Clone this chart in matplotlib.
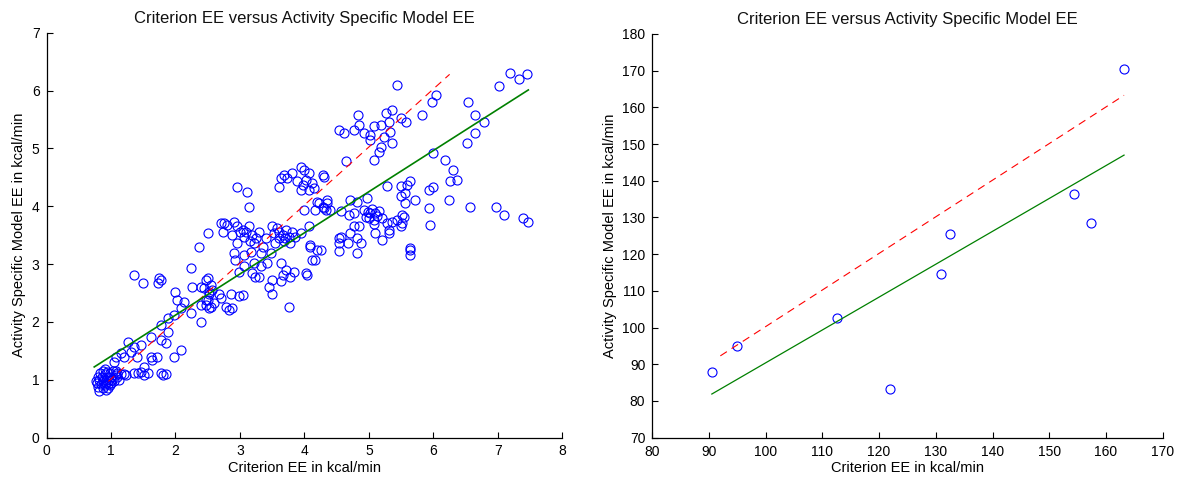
import matplotlib
matplotlib.use("Agg")
import matplotlib.pyplot as plt

plt.rcParams['font.family'] = ['Liberation Sans', 'DejaVu Sans']

TITLE = "Criterion EE versus Activity Specific Model EE"
XLAB = "Criterion EE in kcal/min"
YLAB = "Activity Specific Model EE in kcal/min"

# ── left panel: per-minute EE (criterion vs model) ───────────────────────────
left_pts = [
    # dense low cluster
    (0.78, 0.95), (0.80, 0.88), (0.82, 1.00), (0.85, 0.92), (0.86, 1.05), (0.88, 0.98),
    (0.90, 0.90), (0.90, 1.10), (0.92, 1.00), (0.93, 0.95), (0.95, 1.05), (0.95, 0.85),
    (0.97, 1.00), (0.98, 1.12), (1.00, 0.95), (1.00, 1.05), (1.02, 1.00), (1.03, 1.15),
    (1.05, 0.98), (1.07, 1.08), (0.80, 1.05), (0.83, 1.12), (0.87, 0.85), (0.90, 1.18),
    (0.94, 1.14), (0.98, 0.90), (1.10, 1.05), (1.12, 1.00), (0.76, 0.98), (0.82, 0.80),
    (0.92, 0.82), (1.08, 1.15), (1.15, 1.10), (0.88, 1.15), (0.96, 0.93),
    # row near 1.1
    (1.10, 1.11), (1.23, 1.08), (1.36, 1.11), (1.46, 1.14), (1.51, 1.08), (1.51, 1.22),
    (1.57, 1.11), (1.77, 1.11), (1.80, 1.08), (1.85, 1.10), (1.42, 1.12), (1.20, 1.10),
    # 1 - 2.5
    (2.24, 2.93), (1.36, 2.81), (1.49, 2.67), (1.75, 2.75), (1.73, 2.67), (2.00, 2.52),
    (2.03, 2.38), (2.13, 2.35), (2.08, 2.24), (1.98, 2.12), (1.88, 2.06), (2.24, 2.15),
    (2.39, 2.00), (2.26, 2.61), (2.52, 2.52), (2.52, 2.24), (2.47, 2.38), (2.39, 2.29),
    (1.77, 1.95), (1.88, 1.83), (1.77, 1.69), (1.62, 1.74), (1.85, 1.63), (1.26, 1.66),
    (1.36, 1.57), (1.46, 1.60), (1.31, 1.48), (1.20, 1.40), (1.08, 1.40), (1.15, 1.46),
    (1.05, 1.31), (1.41, 1.40), (1.62, 1.40), (1.72, 1.40), (1.64, 1.34), (1.98, 1.40),
    (2.08, 1.51),
    (2.37, 3.29), (1.77, 2.72), (2.39, 2.61), (2.47, 2.72), (2.57, 2.55), (2.50, 2.38),
    (2.47, 2.29), (2.86, 2.49), (2.83, 2.21), (2.70, 3.71), (2.80, 3.68),
    # 2.5 - 4.5
    (2.96, 4.34), (3.11, 4.25), (3.14, 3.99), (2.50, 3.54), (2.75, 3.71), (2.73, 3.56),
    (2.91, 3.73), (2.96, 3.65), (2.88, 3.50), (3.04, 3.59), (3.06, 3.47), (3.14, 3.65),
    (3.19, 3.50), (3.29, 3.56), (3.22, 3.36), (2.96, 3.36), (2.91, 3.19), (2.93, 3.07),
    (3.06, 3.16), (3.17, 3.21), (3.32, 3.19), (3.48, 3.19), (3.42, 3.01), (3.32, 2.96),
    (3.22, 3.01), (3.29, 2.78), (3.06, 2.96), (2.98, 2.87), (3.50, 3.65), (3.53, 3.53),
    (3.60, 3.56), (3.66, 3.50), (3.71, 3.59), (3.76, 3.47), (3.68, 3.39), (3.55, 3.36),
    (3.78, 3.36), (3.86, 3.47), (3.94, 3.53), (4.07, 3.65), (4.09, 3.33), (4.20, 3.24),
    (4.17, 3.07), (4.22, 4.05), (4.35, 4.05), (4.33, 3.94), (4.17, 3.94), (3.99, 3.94),
    (3.63, 3.01), (3.71, 2.90), (3.84, 2.87), (3.66, 2.81), (3.50, 2.72), (3.45, 2.61),
    (3.50, 2.49), (3.63, 2.70), (4.04, 2.81), (3.76, 2.26), (2.50, 2.75), (2.55, 2.64),
    (2.44, 2.58), (2.52, 2.49), (2.60, 2.32), (2.67, 2.49), (2.70, 2.41), (2.78, 2.26),
    (2.88, 2.24), (2.98, 2.44), (3.04, 2.47), (2.55, 2.26),
    (3.00, 3.55), (3.10, 3.55), (3.25, 3.45), (3.60, 3.45), (3.70, 3.45), (3.80, 3.55),
    (3.58, 3.62), (3.15, 3.40), (3.35, 3.30), (3.40, 3.45),
    (3.63, 4.48), (3.60, 4.34), (3.68, 4.54), (3.73, 4.48), (3.81, 4.57), (3.94, 4.68),
    (3.99, 4.63), (4.07, 4.57), (3.89, 4.43), (3.97, 4.37), (4.02, 4.45), (4.12, 4.40),
    (4.15, 4.31), (4.07, 4.28), (3.94, 4.28), (4.28, 4.54), (4.02, 2.84), (4.12, 3.07),
    (4.09, 3.30), (3.19, 2.84), (3.24, 2.78), (4.20, 4.08), (4.30, 3.97), (3.78, 2.78),
    # 4.5 - 6.5
    (4.83, 5.58), (5.26, 5.62), (5.36, 5.67), (5.49, 5.52), (5.82, 5.58), (5.98, 5.81),
    (5.57, 5.45), (4.53, 5.32), (4.61, 5.26), (4.77, 5.31), (4.84, 5.41), (4.92, 5.26),
    (5.02, 5.23), (5.07, 5.38), (5.18, 5.41), (5.31, 5.46), (5.33, 5.29), (5.02, 5.15),
    (5.23, 5.20), (5.36, 5.09), (5.18, 5.03), (5.15, 4.94), (5.07, 4.80), (4.65, 4.78),
    (4.30, 4.51), (6.18, 4.80), (6.31, 4.63), (6.26, 4.43), (6.36, 4.45), (5.93, 4.28),
    (6.00, 4.33), (5.63, 4.43), (5.49, 4.35), (5.56, 4.22), (5.49, 4.17), (5.72, 4.11),
    (5.28, 4.35), (5.56, 4.05), (6.24, 4.11), (5.93, 3.97), (5.94, 3.68), (4.97, 4.14),
    (4.71, 4.11), (4.82, 4.08), (4.35, 4.11), (4.28, 3.99), (4.40, 3.94), (4.56, 3.91),
    (4.76, 3.88), (4.92, 3.94), (5.02, 3.88), (5.00, 3.79), (5.10, 3.88), (5.07, 3.76),
    (5.20, 3.79), (5.28, 3.71), (5.36, 3.73), (5.51, 3.85), (5.44, 3.76), (5.49, 3.65),
    (5.31, 3.59), (5.10, 3.53), (4.84, 3.65), (4.69, 3.85), (4.56, 3.47), (4.82, 3.45),
    (4.98, 3.90), (5.05, 3.95), (5.12, 3.83), (5.15, 3.92), (4.95, 3.82), (5.08, 3.70),
    (4.53, 3.45), (4.53, 3.36), (4.53, 3.22), (4.67, 3.37), (4.87, 3.37), (4.82, 3.19),
    (4.71, 3.53), (4.76, 3.65), (5.20, 3.42), (5.31, 3.53), (4.25, 3.24), (5.63, 3.24),
    (5.63, 3.16),
    # upper right
    (7.18, 6.31), (7.33, 6.20), (7.45, 6.28), (7.02, 6.07), (6.54, 5.81), (6.65, 5.58),
    (6.79, 5.46), (6.65, 5.27), (6.52, 5.09), (5.99, 4.92), (6.57, 3.99), (6.97, 3.99),
    (7.10, 3.85), (7.38, 3.80), (7.46, 3.72), (5.59, 4.37), (5.54, 3.82), (5.51, 3.71),
    (5.64, 3.27), (6.04, 5.93), (5.44, 6.10),
]
left_x = [p[0] for p in left_pts]
left_y = [p[1] for p in left_pts]

left_ref_x = [0.96, 6.25]       # red dashed
left_ref_y = [0.97, 6.28]
left_fit_x = [0.74, 7.47]       # green fit
left_fit_y = [1.22, 6.01]

# ── right panel: session totals ──────────────────────────────────────────────
right_x = [90.5, 95.0, 112.5, 122.0, 131.0, 132.5, 154.3, 157.4, 163.2]
right_y = [88.0, 95.0, 102.5, 83.2, 114.5, 125.5, 136.4, 128.6, 170.5]

right_ref_x = [92.0, 163.2]
right_ref_y = [92.3, 163.3]
right_fit_x = [90.5, 163.2]
right_fit_y = [81.9, 147.0]

BLUE = "#0000ff"
RED = "#ff0000"
GREEN = "#008000"

fig = plt.figure(figsize=(11.86, 4.82), dpi=100, facecolor="white")
ax1 = fig.add_axes([46.5 / 1186, 44.5 / 482, 516 / 1186, 404.8 / 482])
ax2 = fig.add_axes([652.3 / 1186, 44.3 / 482, 510.3 / 1186, 403.7 / 482])


def style(ax):
    for s in ("top", "right"):
        ax.spines[s].set_visible(False)
    for s in ("left", "bottom"):
        ax.spines[s].set_linewidth(0.9)
    ax.tick_params(direction="in", length=4, width=0.8, labelsize=10, pad=5)
    ax.set_title(TITLE, fontsize=12, pad=7, color="#111111")
    ax.set_xlabel(XLAB, fontsize=10.5, labelpad=2)
    ax.set_ylabel(YLAB, fontsize=10.5, labelpad=4)


ax1.plot(left_x, left_y, "o", mfc="none", mec=BLUE, ms=6.5, mew=0.8, clip_on=False)
ax1.plot(left_ref_x, left_ref_y, color=RED, lw=0.8, dashes=(7, 5))
ax1.plot(left_fit_x, left_fit_y, color=GREEN, lw=1.2)
ax1.set_xlim(0, 8)
ax1.set_ylim(0, 7)
ax1.set_xticks(range(0, 9))
ax1.set_yticks(range(0, 8))
style(ax1)

ax2.plot(right_x, right_y, "o", mfc="none", mec=BLUE, ms=6.5, mew=0.8, clip_on=False)
ax2.plot(right_ref_x, right_ref_y, color=RED, lw=0.8, dashes=(7, 5))
ax2.plot(right_fit_x, right_fit_y, color=GREEN, lw=0.9)
ax2.set_xlim(80, 170)
ax2.set_ylim(70, 180)
ax2.set_xticks(range(80, 171, 10))
ax2.set_yticks(range(70, 181, 10))
style(ax2)

fig.savefig("out.png", dpi=100, facecolor="white")
